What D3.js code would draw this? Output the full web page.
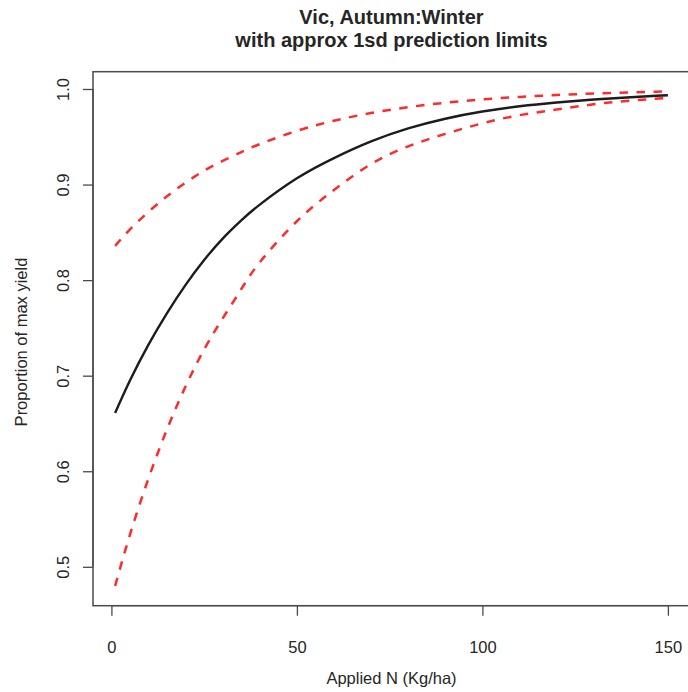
<!DOCTYPE html>
<html>
<head>
<meta charset="utf-8">
<script src="https://cdn.jsdelivr.net/npm/d3@7"></script>
<style>
  html, body { margin: 0; padding: 0; background: #fff; }
  svg { display: block; }
  text { font-family: "Liberation Sans", Arial, Helvetica, sans-serif; fill: #262626; }
</style>
</head>
<body>
<svg id="chart" width="688" height="692"></svg>
<script>
// Applied nitrogen (kg/ha) at which the fitted response is tabulated
const nitrogen = [1, 5, 10, 15, 20, 25, 30, 35, 40, 50, 60, 70, 80, 90, 100, 110, 120, 130, 140, 150];

// Fitted proportion of maximum yield
const fitted = [0.661, 0.695, 0.7325, 0.7655, 0.795, 0.821, 0.8435, 0.8625, 0.879, 0.9065, 0.9277, 0.9451, 0.9587, 0.9689, 0.9764, 0.9819, 0.9859, 0.989, 0.9914, 0.9935];

// Approximate 1 sd prediction limits
const upperLimit = [0.8358, 0.853, 0.8715, 0.8878, 0.902, 0.9145, 0.9248, 0.934, 0.9423, 0.9562, 0.9668, 0.9749, 0.981, 0.9856, 0.9891, 0.9917, 0.9937, 0.9952, 0.9964, 0.9974];
const lowerLimit = [0.480, 0.5336, 0.5925, 0.644, 0.6889, 0.7275, 0.760, 0.7905, 0.8187, 0.8616, 0.8943, 0.9215, 0.940, 0.953, 0.9641, 0.9726, 0.9785, 0.984, 0.9878, 0.9907];

const xTicks = [0, 50, 100, 150];
const yTicks = [0.5, 0.6, 0.7, 0.8, 0.9, 1.0];

const titleLines = ["Vic, Autumn:Winter", "with approx 1sd prediction limits"];
const xLabel = "Applied N (Kg/ha)";
const yLabel = "Proportion of max yield";

const svg = d3.select("#chart");
svg.append("rect").attr("width", 688).attr("height", 692).attr("fill", "#fff");

// Plot region
const plot = { left: 93, right: 690, top: 71.7, bottom: 605.7 };

// Axis ranges padded by 4% of the data extent on each side
function padded(extent) {
  const d = (extent[1] - extent[0]) * 0.04;
  return [extent[0] - d, extent[1] + d];
}
const xDomain = padded(d3.extent(nitrogen));
const yDomain = padded([d3.min(lowerLimit), d3.max(upperLimit)]);

const x = d3.scaleLinear().domain(xDomain).range([plot.left, plot.right]);
const y = d3.scaleLinear().domain(yDomain).range([plot.bottom, plot.top]);

const line = (vals) => d3.line()
  .x((d, i) => x(nitrogen[i]))
  .y(d => y(d))
  .curve(d3.curveNatural)(vals);

// Curves
svg.append("path")
  .attr("d", line(fitted))
  .attr("fill", "none")
  .attr("stroke", "#1c1c1c")
  .attr("stroke-width", 2.4);

[upperLimit, lowerLimit].forEach(vals => {
  svg.append("path")
    .attr("d", line(vals))
    .attr("fill", "none")
    .attr("stroke", "#ff2b2b")
    .attr("stroke-width", 2.5)
    .attr("stroke-dasharray", "8.5,8.5");
});

// Axes
const axisColor = "#4a4a4a";
const xAxis = d3.axisBottom(x).tickValues(xTicks).tickSize(10).tickPadding(26).tickFormat(d3.format("d"));
const gx = svg.append("g").attr("transform", `translate(0,${plot.bottom})`).call(xAxis);
gx.select(".domain").attr("stroke", axisColor).attr("stroke-width", 1.3)
  .attr("d", `M${x(xTicks[0])},0H${x(xTicks[xTicks.length - 1])}`);
gx.selectAll(".tick line").attr("stroke", axisColor).attr("stroke-width", 1.3);
gx.selectAll(".tick text")
  .attr("font-size", 16.5)
  .attr("font-family", "'Liberation Sans', Arial, sans-serif")
  .attr("fill", "#262626")
  .attr("dy", 0).attr("y", 47);

const yAxis = d3.axisLeft(y).tickValues(yTicks).tickSize(10).tickFormat(d3.format(".1f"));
const gy = svg.append("g").attr("transform", `translate(${plot.left},0)`).call(yAxis);
gy.select(".domain").attr("stroke", axisColor).attr("stroke-width", 1.3)
  .attr("d", `M0,${y(yTicks[0])}V${y(yTicks[yTicks.length - 1])}`);
gy.selectAll(".tick line").attr("stroke", axisColor).attr("stroke-width", 1.3);
gy.selectAll(".tick text")
  .attr("font-size", 16.5)
  .attr("font-family", "'Liberation Sans', Arial, sans-serif")
  .attr("fill", "#262626")
  .attr("x", null).attr("dy", null)
  .attr("text-anchor", "middle")
  .attr("transform", "translate(-24.5,0) rotate(-90)");

// Frame
svg.append("rect")
  .attr("x", plot.left).attr("y", plot.top)
  .attr("width", plot.right - plot.left).attr("height", plot.bottom - plot.top)
  .attr("fill", "none").attr("stroke", axisColor).attr("stroke-width", 1.5);

// Titles
svg.selectAll("text.title").data(titleLines).enter().append("text")
  .attr("class", "title")
  .attr("x", (plot.left + plot.right) / 2)
  .attr("y", (d, i) => 24 + i * 22.5)
  .attr("text-anchor", "middle")
  .attr("font-size", 20)
  .attr("font-weight", "bold")
  .text(d => d);

svg.append("text")
  .attr("x", (plot.left + plot.right) / 2)
  .attr("y", 684)
  .attr("text-anchor", "middle")
  .attr("font-size", 16.5)
  .text(xLabel);

svg.append("text")
  .attr("transform", `translate(27,342) rotate(-90)`)
  .attr("text-anchor", "middle")
  .attr("font-size", 16.5)
  .text(yLabel);
</script>
</body>
</html>
